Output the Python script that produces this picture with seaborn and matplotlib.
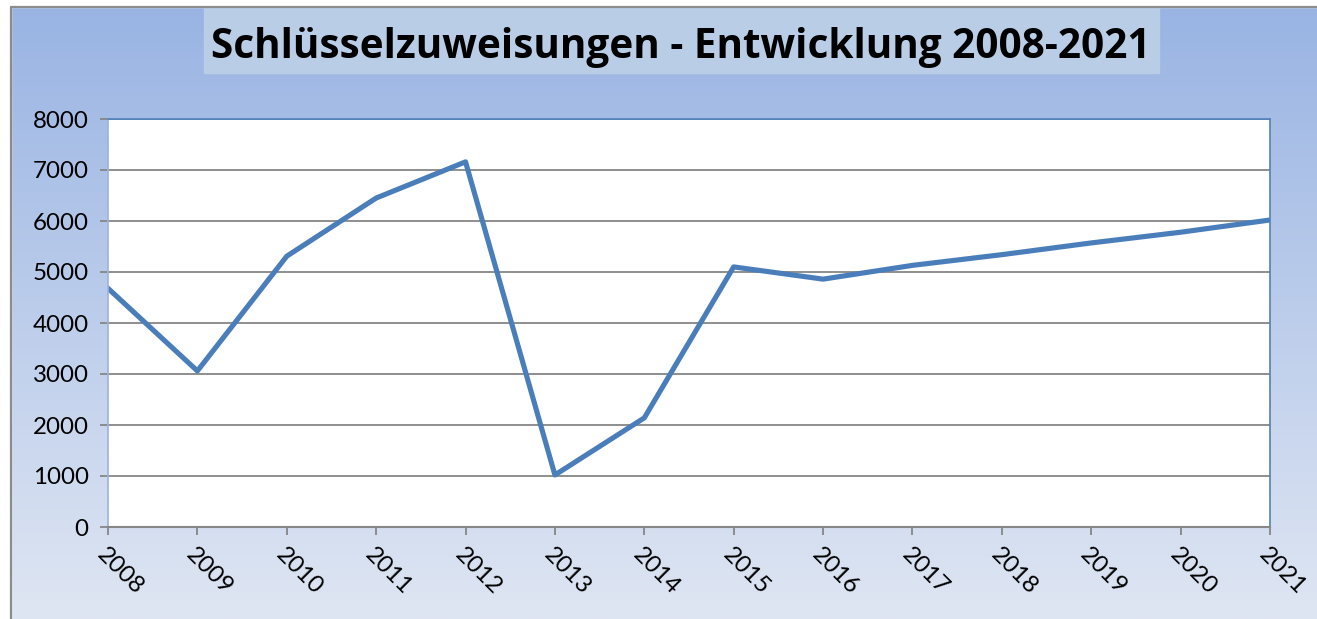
import numpy as np
import pandas as pd
import seaborn as sns
import matplotlib.pyplot as plt
from matplotlib.patches import Rectangle
from matplotlib.colors import LinearSegmentedColormap

# data
years = [2008, 2009, 2010, 2011, 2012, 2013, 2014, 2015, 2016, 2017, 2018, 2019, 2020, 2021]
values = [4680, 3060, 5310, 6450, 7160, 1020, 2140, 5100, 4860, 5130, 5340, 5570, 5780, 6020]
yticks = [0, 1000, 2000, 3000, 4000, 5000, 6000, 7000, 8000]
title = 'Schlüsselzuweisungen - Entwicklung 2008-2021'

df = pd.DataFrame({'Jahr': years, 'Wert': values})

sns.set_style('white')
plt.rcParams['font.family'] = ['Lato', 'DejaVu Sans']

W, H = 1317, 619
fig = plt.figure(figsize=(W / 100, H / 100), dpi=100)

# gradient chart background, border at left/top
bg = fig.add_axes([0, 0, 1, 1], zorder=0)
bg.set_xlim(0, W)
bg.set_ylim(H, 0)
bg.axis('off')
cmap = LinearSegmentedColormap.from_list('bg', ['#99b4e3', '#dfe6f3'])
grad = np.linspace(0, 1, 256).reshape(-1, 1)
bg.imshow(grad, cmap=cmap, extent=[11, W, H, 7], aspect='auto')
bg.add_patch(Rectangle((0, 0), 11, H, color='white'))
bg.add_patch(Rectangle((0, 0), W, 7, color='white'))
bg.plot([11, 11], [H, 7], color='#8c8c8c', lw=1.6)
bg.plot([11, W], [7, 7], color='#8c8c8c', lw=1.6)

# title box
bg.add_patch(Rectangle((204, 7), 955, 66, color='#b9cde6'))
bg.text(681, 58, title, ha='center', va='baseline', fontsize=29.2,
        fontweight='bold', family=['Open Sans', 'DejaVu Sans'], color='black')

ax = fig.add_axes([108 / W, 1 - 527 / H, (1270 - 108) / W, (527 - 119) / H], zorder=1)
ax.set_facecolor('white')
sns.lineplot(data=df, x='Jahr', y='Wert', ax=ax, color='#4a7ebb', linewidth=3.7)

ax.set_xlim(2008, 2021)
ax.set_ylim(0, 8000)
ax.set_xticks(years)
ax.set_yticks(yticks)
ax.set_xticklabels([str(y) for y in years], rotation=-45, ha='left', va='top',
                   rotation_mode='anchor', fontsize=17.4)
ax.set_yticklabels([str(v) for v in yticks], fontsize=17.4)
ax.set_xlabel('')
ax.set_ylabel('')
ax.grid(axis='y', color='#868686', linewidth=1.3)
ax.set_axisbelow(True)

for s in ['top', 'right']:
    ax.spines[s].set_color('#4f81bd')
    ax.spines[s].set_linewidth(1.2)
ax.spines['left'].set_color('#9db3dc')
ax.spines['left'].set_linewidth(1.2)
ax.spines['bottom'].set_color('#868686')
ax.spines['bottom'].set_linewidth(1.5)
ax.tick_params(axis='both', direction='out', length=6, width=1.3, color='#868686',
               left=True, bottom=True, labelcolor='black')
ax.tick_params(axis='x', pad=6)
ax.tick_params(axis='y', pad=8)

fig.savefig('out.png', dpi=100)
